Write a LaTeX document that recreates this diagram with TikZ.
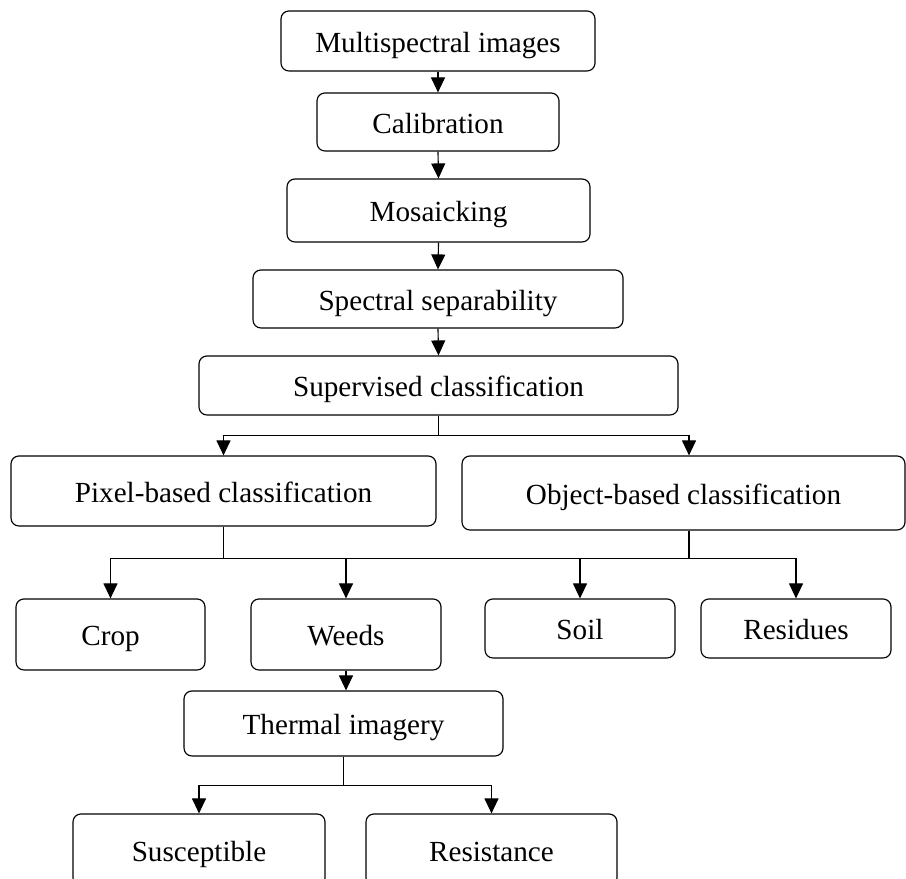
\documentclass[tikz,border=0pt]{standalone}
\usepackage{fontspec}
\setmainfont{Liberation Serif}
\usepackage{tikz}
\usetikzlibrary{calc,positioning,arrows.meta}

\begin{document}
\begin{tikzpicture}[
    block/.style={draw, line width=0.65pt, rounded corners=4.5pt, minimum width=#1, inner sep=0pt, text height=12.6pt, text depth=0pt},
    arr/.style={line width=0.65pt, -{Triangle[length=0.3cm, width=0.28cm]}},
    line/.style={line width=0.65pt},
    every node/.style={font=\fontsize{16.6}{20}\selectfont}
]
    \useasboundingbox (0,0) rectangle (18.12,17.58);
    \clip (0,0) rectangle (18.12,17.58);

    % Processing chain
    \node[block=6.28cm, minimum height=1.2cm] (multi) at (8.76, 16.76) {Multispectral images};
    \node[block=4.84cm, minimum height=1.16cm] (calib) at (8.76, 15.14) {Calibration};
    \node[block=6.06cm, minimum height=1.26cm] (mosaic) at (8.77, 13.37) {Mosaicking};
    \node[block=7.40cm, minimum height=1.16cm] (spectral) at (8.76, 11.60) {Spectral separability};
    \node[block=9.58cm, minimum height=1.18cm] (superv) at (8.77, 9.87) {Supervised classification};

    \draw[arr] (multi.south) -- (calib.north);
    \draw[arr] (calib.south) -- (mosaic.north);
    \draw[arr] (mosaic.south) -- (spectral.north);
    \draw[arr] (spectral.south) -- (superv.north);

    % Classification methods
    \node[block=8.50cm, minimum height=1.40cm] (pixel) at (4.47, 7.76) {Pixel-based classification};
    \node[block=8.86cm, minimum height=1.48cm] (object) at (13.67, 7.72) {Object-based classification};

    \draw[line] (superv.south) -- ++(0,-0.4) coordinate (s1);
    \draw[arr] (s1) -| (pixel.north);
    \draw[arr] (s1) -| ([xshift=0.11cm]object.north);

    % Classes
    \node[block=3.78cm, minimum height=1.42cm] (crop) at (2.21, 4.89) {Crop};
    \node[block=3.80cm, minimum height=1.42cm] (weeds) at (6.92, 4.89) {Weeds};
    \node[block=3.80cm, minimum height=1.18cm] (soil) at (11.60, 5.01) {Soil};
    \node[block=3.80cm, minimum height=1.18cm] (residues) at (15.92, 5.01) {Residues};

    \draw[line] (pixel.south) -- ++(0,-0.64) coordinate (p1);
    \coordinate (ob) at ([xshift=0.11cm]object.south);
    \coordinate (o1) at (ob |- p1);
    \draw[line] (ob) -- (o1) -- (p1);
    \draw[arr] (p1) -| (crop.north);
    \draw[arr] (p1) -| (weeds.north);
    \draw[arr] (o1) -| (soil.north);
    \draw[arr] (o1) -| (residues.north);

    % Thermal step
    \node[block=6.38cm, minimum height=1.30cm] (thermal) at (6.87, 3.11) {Thermal imagery};
    \draw[arr] (weeds.south) -- (weeds.south |- thermal.north);

    \node[block=5.04cm, minimum height=1.44cm] (suscept) at (3.98, 0.58) {Susceptible};
    \node[block=5.02cm, minimum height=1.44cm] (resist) at (9.83, 0.58) {Resistance};

    \draw[line] (thermal.south) -- ++(0,-0.58) coordinate (t1);
    \draw[arr] (t1) -| (suscept.north);
    \draw[arr] (t1) -| (resist.north);
\end{tikzpicture}
\end{document}
